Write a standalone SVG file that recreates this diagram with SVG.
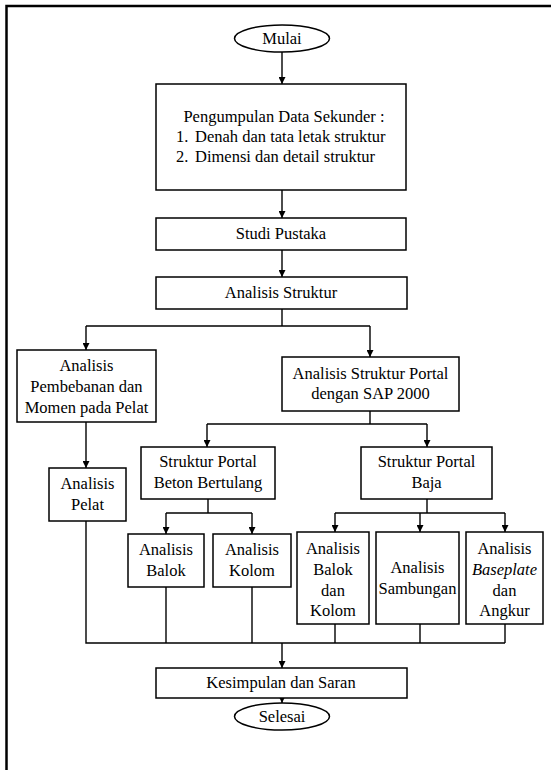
<svg xmlns="http://www.w3.org/2000/svg" width="551" height="770" viewBox="0 0 551 770">
<defs>
<style>
.box{fill:#fff;stroke:#000;stroke-width:1.5}
.ln{fill:none;stroke:#000;stroke-width:1.4}
.t{font-family:"Liberation Serif","Times New Roman",serif;font-size:16.5px;fill:#000;text-anchor:middle}
.s{text-anchor:start}
.it{font-style:italic}
</style>
<marker id="ah" viewBox="0 0 10 10" refX="10" refY="5" markerWidth="7" markerHeight="7" markerUnits="userSpaceOnUse" orient="auto">
<path d="M0,0 L10,5 L0,10 z" fill="#000"/>
</marker>
</defs>
<rect width="551" height="770" fill="#fff"/>
<path d="M6.5,770 V6 H551" fill="none" stroke="#000" stroke-width="2.5"/>

<g id="connectors">
<path class="ln" d="M282,52 V84" marker-end="url(#ah)"/>
<path class="ln" d="M282,190 V218" marker-end="url(#ah)"/>
<path class="ln" d="M282,250 V277" marker-end="url(#ah)"/>
<path class="ln" d="M282,309 V326"/>
<path class="ln" d="M86,326 H370"/>
<path class="ln" d="M86,326 V350" marker-end="url(#ah)"/>
<path class="ln" d="M370,326 V357" marker-end="url(#ah)"/>
<path class="ln" d="M86,422 V468" marker-end="url(#ah)"/>
<path class="ln" d="M370,411 V424"/>
<path class="ln" d="M207,424 H427"/>
<path class="ln" d="M207,424 V447" marker-end="url(#ah)"/>
<path class="ln" d="M427,424 V447" marker-end="url(#ah)"/>
<path class="ln" d="M208,499 V513"/>
<path class="ln" d="M166,513 H252"/>
<path class="ln" d="M166,513 V534" marker-end="url(#ah)"/>
<path class="ln" d="M252,513 V534" marker-end="url(#ah)"/>
<path class="ln" d="M427,499 V513"/>
<path class="ln" d="M335,513 H505"/>
<path class="ln" d="M335,513 V532" marker-end="url(#ah)"/>
<path class="ln" d="M420,513 V532" marker-end="url(#ah)"/>
<path class="ln" d="M505,513 V532" marker-end="url(#ah)"/>
<path class="ln" d="M86,521 V643 H505"/>
<path class="ln" d="M166,587 V643"/>
<path class="ln" d="M252,587 V643"/>
<path class="ln" d="M335,624 V643"/>
<path class="ln" d="M420,624 V643"/>
<path class="ln" d="M505,624 V643"/>
<path class="ln" d="M282,643 V668" marker-end="url(#ah)"/>
<path class="ln" d="M282,698 V703" marker-end="url(#ah)"/>
</g>

<g id="mulai">
<ellipse class="box" cx="282" cy="38.5" rx="47.5" ry="13.5"/>
<text class="t" x="282" y="44">Mulai</text>
</g>
<g id="data">
<rect class="box" x="156" y="84" width="250" height="106"/>
<text class="t" x="284" y="122">Pengumpulan Data Sekunder :</text>
<text class="t s" y="142"><tspan x="176">1.</tspan><tspan x="195">Denah dan tata letak struktur</tspan></text>
<text class="t s" y="162"><tspan x="176">2.</tspan><tspan x="195">Dimensi dan detail struktur</tspan></text>
</g>
<g id="studi">
<rect class="box" x="156" y="218" width="250" height="32"/>
<text class="t" x="281" y="239">Studi Pustaka</text>
</g>
<g id="analisis-struktur">
<rect class="box" x="156" y="277" width="251" height="32"/>
<text class="t" x="281" y="298">Analisis Struktur</text>
</g>
<g id="pembebanan">
<rect class="box" x="17" y="350" width="139" height="72"/>
<text class="t" x="86.5" y="371">Analisis</text>
<text class="t" x="86.5" y="392">Pembebanan dan</text>
<text class="t" x="86.5" y="413">Momen pada Pelat</text>
</g>
<g id="portal-sap">
<rect class="box" x="282" y="357" width="177" height="54"/>
<text class="t" x="370.5" y="379">Analisis Struktur Portal</text>
<text class="t" x="370.5" y="399">dengan SAP 2000</text>
</g>
<g id="pelat">
<rect class="box" x="49" y="468" width="77" height="53"/>
<text class="t" x="87.5" y="489">Analisis</text>
<text class="t" x="87.5" y="510">Pelat</text>
</g>
<g id="beton">
<rect class="box" x="141" y="447" width="134" height="52"/>
<text class="t" x="208" y="467">Struktur Portal</text>
<text class="t" x="208" y="488">Beton Bertulang</text>
</g>
<g id="baja">
<rect class="box" x="361" y="447" width="131" height="52"/>
<text class="t" x="426.5" y="467">Struktur Portal</text>
<text class="t" x="426.5" y="488">Baja</text>
</g>
<g id="balok">
<rect class="box" x="128" y="534" width="76" height="53"/>
<text class="t" x="166" y="555">Analisis</text>
<text class="t" x="166" y="576">Balok</text>
</g>
<g id="kolom">
<rect class="box" x="213" y="534" width="78" height="53"/>
<text class="t" x="252" y="555">Analisis</text>
<text class="t" x="252" y="576">Kolom</text>
</g>
<g id="balok-kolom">
<rect class="box" x="297" y="532" width="72" height="92"/>
<text class="t" x="333" y="554">Analisis</text>
<text class="t" x="333" y="575">Balok</text>
<text class="t" x="333" y="596">dan</text>
<text class="t" x="333" y="616">Kolom</text>
</g>
<g id="sambungan">
<rect class="box" x="376" y="532" width="83" height="92"/>
<text class="t" x="417.5" y="573">Analisis</text>
<text class="t" x="417.5" y="594">Sambungan</text>
</g>
<g id="baseplate">
<rect class="box" x="466" y="532" width="77" height="92"/>
<text class="t" x="504.5" y="554">Analisis</text>
<text class="t it" x="504.5" y="575">Baseplate</text>
<text class="t" x="504.5" y="596">dan</text>
<text class="t" x="504.5" y="616">Angkur</text>
</g>
<g id="kesimpulan">
<rect class="box" x="156" y="668" width="251" height="30"/>
<text class="t" x="281" y="688">Kesimpulan dan Saran</text>
</g>
<g id="selesai">
<ellipse class="box" cx="282" cy="716.5" rx="47.5" ry="13.5"/>
<text class="t" x="282" y="722">Selesai</text>
</g>
</svg>
